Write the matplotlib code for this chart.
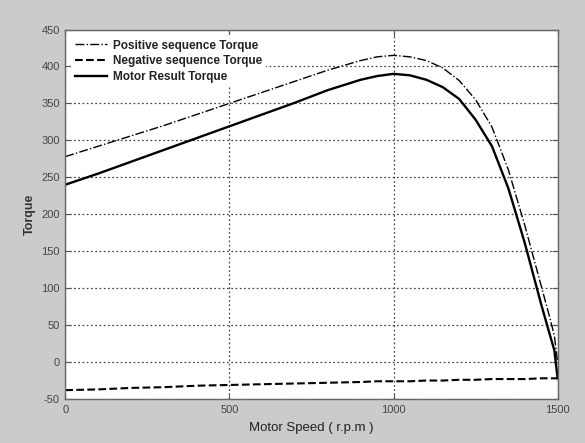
import numpy as np
import matplotlib
matplotlib.use("Agg")
import matplotlib.pyplot as plt

plt.rcParams['font.family'] = ['Liberation Sans', 'DejaVu Sans']
plt.rcParams['axes.unicode_minus'] = False

# Motor speed (rpm) sample points
speed = [0, 100, 200, 300, 400, 500, 600, 700, 800, 900, 950, 1000, 1050, 1100,
         1150, 1200, 1250, 1300, 1350, 1400, 1450, 1475, 1490, 1500]

# Torque
pos_torque = [278, 292, 306, 320, 335, 350, 365, 380, 395, 408, 413, 415, 413, 408,
              398, 381, 355, 318, 260, 185, 103, 62, 36, 0]
neg_torque = [-38, -37, -35, -34, -32, -31, -30, -29, -28, -27, -26, -26, -26, -25,
              -25, -24, -24, -23, -23, -23, -22, -22, -22, -22]
res_torque = [240, 255, 271, 287, 303, 319, 335, 351, 368, 382, 387, 390, 388, 382,
              372, 356, 328, 292, 235, 161, 78, 39, 16, -22]

xticks = [0, 500, 1000, 1500]
yticks = [-50, 0, 50, 100, 150, 200, 250, 300, 350, 400, 450]

fig = plt.figure(figsize=(5.85, 4.43), dpi=100, facecolor='#cbcbcb')
ax = fig.add_axes([0.1116, 0.0993, 0.8416, 0.8341])
ax.set_facecolor('white')

ax.plot(speed, pos_torque, color='black', lw=1.0, ls='-.', label='Positive sequence Torque')
ax.plot(speed, neg_torque, color='black', lw=1.5, ls='--', label='Negative sequence Torque')
ax.plot(speed, res_torque, color='black', lw=1.7, ls='-', label='Motor Result Torque')

ax.set_xlim(0, 1500)
ax.set_ylim(-50, 450)
ax.set_xticks(xticks)
ax.set_yticks(yticks)
ax.grid(True, color='#444444', lw=0.9, ls=(0, (1.4, 2.0)))
ax.tick_params(direction='in', length=4, width=0.8, top=True, right=True,
               labelsize=8, colors='#555555', pad=4)
for lbl in ax.get_xticklabels() + ax.get_yticklabels():
    lbl.set_color('#444444')
for sp in ax.spines.values():
    sp.set_color('#666666')
    sp.set_linewidth(1.0)

ax.set_xlabel('Motor Speed ( r.p.m )', fontsize=9.5, color='#222222', labelpad=5)
ax.set_ylabel('Torque', fontsize=9, fontweight='bold', color='#333333', labelpad=4)

leg = ax.legend(loc='upper left', prop={'weight': 'bold', 'size': 8.5},
                handlelength=2.7, handletextpad=0.5, labelspacing=0.32,
                borderpad=0.35, borderaxespad=0.5, fancybox=False, framealpha=1)
leg.get_frame().set_edgecolor('none')
for t in leg.get_texts():
    t.set_color('#222222')

fig.savefig('out.png', dpi=100, facecolor=fig.get_facecolor())
